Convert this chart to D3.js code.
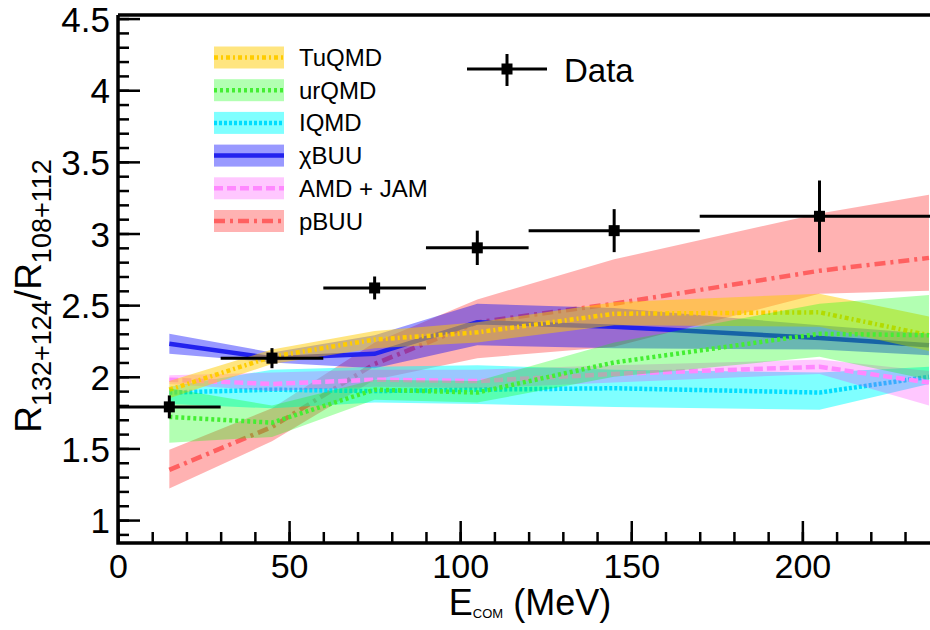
<!DOCTYPE html>
<html><head><meta charset="utf-8">
<script src="https://cdn.jsdelivr.net/npm/d3@7"></script>
<style>
html,body{margin:0;padding:0;background:#fff;}
svg{display:block;font-family:"Liberation Sans",Arial,Helvetica,sans-serif;}
</style></head>
<body><svg id="c" width="930" height="630"></svg>
<script>
// ---- data ----
const modelX = [15, 45, 75, 105, 145, 205, 237];
const tuqmdMid = [1.91, 2.14, 2.26, 2.31, 2.44, 2.45, 2.29];
const tuqmdLo  = [1.85, 2.09, 2.20, 2.24, 2.36, 2.35, 2.18];
const tuqmdHi  = [1.97, 2.19, 2.32, 2.38, 2.52, 2.58, 2.42];
const urqmdMid = [1.72, 1.68, 1.91, 1.89, 2.10, 2.30, 2.29];
const urqmdLo  = [1.54, 1.58, 1.84, 1.82, 2.00, 2.14, 1.98];
const urqmdHi  = [1.92, 1.80, 1.98, 1.97, 2.24, 2.51, 2.57];
const iqmdMid  = [1.89, 1.91, 1.90, 1.91, 1.92, 1.89, 2.00];
const iqmdLo   = [1.81, 1.78, 1.82, 1.81, 1.79, 1.77, 1.95];
const iqmdHi   = [1.93, 2.05, 2.07, 2.08, 2.05, 2.03, 2.07];
const chibuuMid = [2.23, 2.13, 2.16, 2.38, 2.35, 2.27, 2.22];
const chibuuLo  = [2.16, 2.10, 2.06, 2.22, 2.20, 2.19, 2.15];
const chibuuHi  = [2.30, 2.17, 2.29, 2.51, 2.48, 2.36, 2.30];
const amdMid = [1.98, 1.95, 1.98, 1.97, 2.02, 2.07, 1.96];
const amdLo  = [1.95, 1.90, 1.93, 1.92, 1.96, 2.02, 1.80];
const amdHi  = [2.01, 2.03, 2.05, 2.05, 2.08, 2.12, 2.04];
const pbuuMid = [1.35, 1.65, 2.09, 2.38, 2.51, 2.74, 2.83];
const pbuuLo  = [1.22, 1.55, 1.98, 2.13, 2.21, 2.58, 2.60];
const pbuuHi  = [1.49, 1.78, 2.24, 2.54, 2.82, 3.14, 3.27];

const dataX   = [15, 45, 75, 105, 145, 205];
const dataY   = [1.79, 2.13, 2.62, 2.90, 3.02, 3.12];
const dataErr = [0.08, 0.07, 0.08, 0.12, 0.15, 0.25];
const dataXlo = [0, 30, 60, 90, 120, 170];
const dataXhi = [30, 60, 90, 120, 170, 240];

const xTicks = [0, 50, 100, 150, 200];
const yTicks = [1, 1.5, 2, 2.5, 3, 3.5, 4, 4.5];
const yTickLabels = ["1", "1.5", "2", "2.5", "3", "3.5", "4", "4.5"];

const models = [
  {name:"TuQMD",    mid:tuqmdMid, lo:tuqmdLo, hi:tuqmdHi, fill:"#ffcc00", op:0.5, line:"#ffcc00", dash:"4,3,2,3"},
  {name:"urQMD",    mid:urqmdMid, lo:urqmdLo, hi:urqmdHi, fill:"#00ff00", op:0.3, line:"#44ee33", dash:"3,3"},
  {name:"IQMD",     mid:iqmdMid,  lo:iqmdLo,  hi:iqmdHi,  fill:"#00ffff", op:0.5, line:"#00ddff", dash:"3,2"},
  {name:"\u03c7BUU", mid:chibuuMid, lo:chibuuLo, hi:chibuuHi, fill:"#0000ff", op:0.4, line:"#2222ee", dash:null},
  {name:"AMD + JAM", mid:amdMid, lo:amdLo, hi:amdHi, fill:"#ff00ff", op:0.22, line:"#ff88ff", dash:"9,4"},
  {name:"pBUU",     mid:pbuuMid, lo:pbuuLo, hi:pbuuHi, fill:"#ff0000", op:0.3, line:"#ff6060", dash:"11,5,3,5"}
];
const drawOrder = ["pBUU", "\u03c7BUU", "IQMD", "AMD + JAM", "TuQMD", "urQMD"];

// ---- layout ----
const L = 118, R = 930, T = 15, B = 543;
const x = d3.scaleLinear().domain([0, 237.3]).range([L, R]);
const y = d3.scaleLinear().domain([0.84, 4.525]).range([B, T]);

const svg = d3.select("#c");
svg.append("defs").append("clipPath").attr("id","clip")
  .append("rect").attr("x",L).attr("y",T).attr("width",R-L).attr("height",B-T);
const plot = svg.append("g").attr("clip-path","url(#clip)");

// bands + lines
drawOrder.forEach(nm => {
  const m = models.find(d => d.name === nm);
  const pts = modelX.map((v,i) => ({x:v, lo:m.lo[i], hi:m.hi[i], mid:m.mid[i]}));
  plot.append("path").datum(pts)
    .attr("d", d3.area().x(d=>x(d.x)).y0(d=>y(d.lo)).y1(d=>y(d.hi)))
    .attr("fill", m.fill).attr("fill-opacity", m.op).attr("stroke","none");
  plot.append("path").datum(pts)
    .attr("d", d3.line().x(d=>x(d.x)).y(d=>y(d.mid)))
    .attr("fill","none").attr("stroke", m.line).attr("stroke-width", 4.5)
    .attr("stroke-dasharray", m.dash);
});

// data points
const dg = plot.append("g");
dataX.forEach((v,i) => {
  dg.append("line").attr("x1",x(dataXlo[i])).attr("x2",x(dataXhi[i]))
    .attr("y1",y(dataY[i])).attr("y2",y(dataY[i])).attr("stroke","#000").attr("stroke-width",3);
  dg.append("line").attr("x1",x(v)).attr("x2",x(v))
    .attr("y1",y(dataY[i]-dataErr[i])).attr("y2",y(dataY[i]+dataErr[i])).attr("stroke","#000").attr("stroke-width",3);
  dg.append("rect").attr("x",x(v)-5.5).attr("y",y(dataY[i])-5.5).attr("width",11).attr("height",11).attr("fill","#000");
});

// axes
const axisG = svg.append("g");
const yMajor = d3.axisLeft(y).tickValues(yTicks).tickFormat((d,i)=>yTickLabels[i]).tickSize(-22).tickPadding(8);
const yMinor = d3.axisLeft(y).tickValues(d3.range(9,46).map(v=>v/10).filter(v=>v>=0.84 && v<=4.525)).tickFormat("").tickSize(-11);
const ga = axisG.append("g").attr("transform",`translate(${L},0)`).call(yMinor);
const gb = axisG.append("g").attr("transform",`translate(${L},0)`).call(yMajor);
const xMajor = d3.axisBottom(x).tickValues(xTicks).tickSize(-22).tickPadding(8);
const xMinor = d3.axisBottom(x).tickValues(d3.range(0,240,10)).tickFormat("").tickSize(-11);
const gc = axisG.append("g").attr("transform",`translate(0,${B})`).call(xMinor);
const gd = axisG.append("g").attr("transform",`translate(0,${B})`).call(xMajor);
[ga,gb,gc,gd].forEach(g => {
  g.select(".domain").remove();
  g.selectAll(".tick line").attr("stroke","#000").attr("stroke-width",2.5);
  g.selectAll("text").attr("fill","#000").attr("font-size",34)
    .attr("font-family",'"Liberation Sans",Arial,sans-serif');
});
gb.selectAll("text").attr("dy","0.36em").attr("font-size",35);
gd.selectAll("text").attr("dy","0.78em");
// frame
axisG.append("path").attr("d",`M${L},${T}H${R+5}M${L},${T}V${B}H${R+5}`)
  .attr("fill","none").attr("stroke","#000").attr("stroke-width",3.5);

// axis titles
const xt = svg.append("text").attr("x",530).attr("y",615).attr("text-anchor","middle")
  .attr("font-size",36).attr("fill","#000");
xt.append("tspan").text("E");
xt.append("tspan").attr("font-size",13).attr("dy",3).text("COM");
xt.append("tspan").attr("dy",-3).text(" (MeV)");

const yt = svg.append("text").attr("transform","translate(41,296) rotate(-90)").attr("text-anchor","middle")
  .attr("font-size",37).attr("fill","#000");
yt.append("tspan").text("R");
yt.append("tspan").attr("font-size",27).attr("dy",10).text("132+124");
yt.append("tspan").attr("dy",-10).text("/R");
yt.append("tspan").attr("font-size",27).attr("dy",10).text("108+112");

// legend
const lg = svg.append("g");
models.forEach((m,i) => {
  const cy = 57.5 + i*32.7;
  lg.append("rect").attr("x",214).attr("y",cy-11).attr("width",70).attr("height",22)
    .attr("fill",m.fill).attr("fill-opacity",m.op);
  lg.append("line").attr("x1",214).attr("x2",284).attr("y1",cy).attr("y2",cy)
    .attr("stroke",m.line).attr("stroke-width",4.5).attr("stroke-dasharray",m.dash);
  lg.append("text").attr("x",299).attr("y",cy+8.5).attr("font-size",24).attr("fill","#000").text(m.name);
});
// data legend
lg.append("line").attr("x1",467).attr("x2",547).attr("y1",69).attr("y2",69).attr("stroke","#000").attr("stroke-width",3);
lg.append("line").attr("x1",507).attr("x2",507).attr("y1",54).attr("y2",86).attr("stroke","#000").attr("stroke-width",3);
lg.append("rect").attr("x",501.5).attr("y",63.5).attr("width",11).attr("height",11).attr("fill","#000");
lg.append("text").attr("x",564).attr("y",82).attr("font-size",33).attr("fill","#000").text("Data");
</script></body></html>
